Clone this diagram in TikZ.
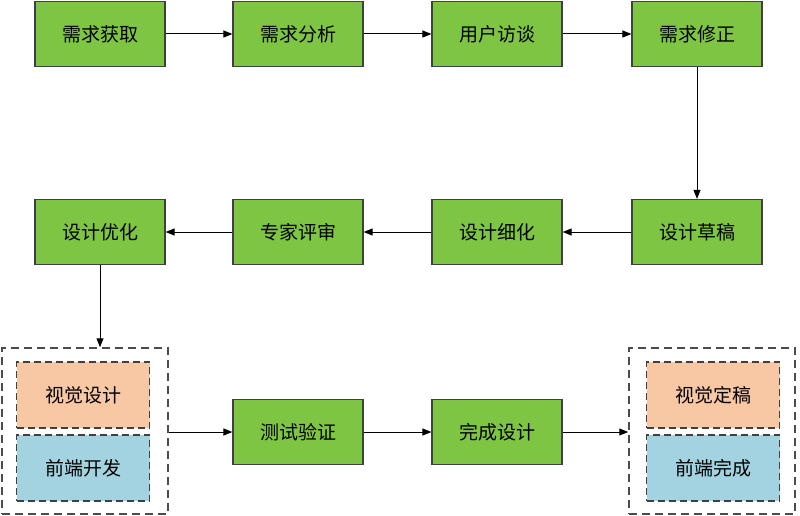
\documentclass[tikz,border=0pt]{standalone}
\usepackage{fontspec}
\newfontfamily\cjk{Noto Sans CJK SC}
\usetikzlibrary{arrows.meta}
\definecolor{gr}{HTML}{7EC544}
\definecolor{og}{HTML}{F8C7A3}
\definecolor{bl}{HTML}{A3D3E0}
\begin{document}
\begin{tikzpicture}[x=1pt,y=-1pt,
 box/.style={draw=black!75,line width=1.2pt,fill=gr,minimum width=130pt,minimum height=65pt,font=\cjk\fontsize{19}{20}\selectfont},
 ibox/.style={draw=black!75,dashed,dash pattern=on 7pt off 4pt,line width=1.3pt,minimum width=133pt,minimum height=66pt,font=\cjk\fontsize{19}{20}\selectfont},
 grp/.style={draw=black!70,dashed,dash pattern=on 8pt off 5pt,line width=1.5pt,minimum width=166pt,minimum height=166pt},
 ar/.style={-{Triangle[length=9pt,width=7pt]},line width=1pt}]
\useasboundingbox (0,0) rectangle (800,516);
\node[box] (a1) at (100,34) {需求获取};
\node[box] (a2) at (298,34) {需求分析};
\node[box] (a3) at (497,34) {用户访谈};
\node[box] (a4) at (697,34) {需求修正};
\node[box] (b4) at (697,232) {设计草稿};
\node[box] (b3) at (497,232) {设计细化};
\node[box] (b2) at (298,232) {专家评审};
\node[box] (b1) at (100,232) {设计优化};
\node[grp] (g1) at (85,431) {};
\node[ibox,fill=og] at (83,395) {视觉设计};
\node[ibox,fill=bl] at (83,468) {前端开发};
\node[box] (c2) at (298,432) {测试验证};
\node[box] (c3) at (497,432) {完成设计};
\node[grp] (g2) at (712,431) {};
\node[ibox,fill=og] at (713,395) {视觉定稿};
\node[ibox,fill=bl] at (713,468) {前端完成};
\draw[ar] (a1)--(a2); \draw[ar] (a2)--(a3); \draw[ar] (a3)--(a4);
\draw[ar] (a4)--(b4); \draw[ar] (b4)--(b3); \draw[ar] (b3)--(b2); \draw[ar] (b2)--(b1);
\draw[ar] (b1.south)--(g1.north-|b1.south);
\draw[ar] (g1.east|-c2)--(c2); \draw[ar] (c2)--(c3); \draw[ar] (c3)--(g2.west|-c3);
\end{tikzpicture}
\end{document}
